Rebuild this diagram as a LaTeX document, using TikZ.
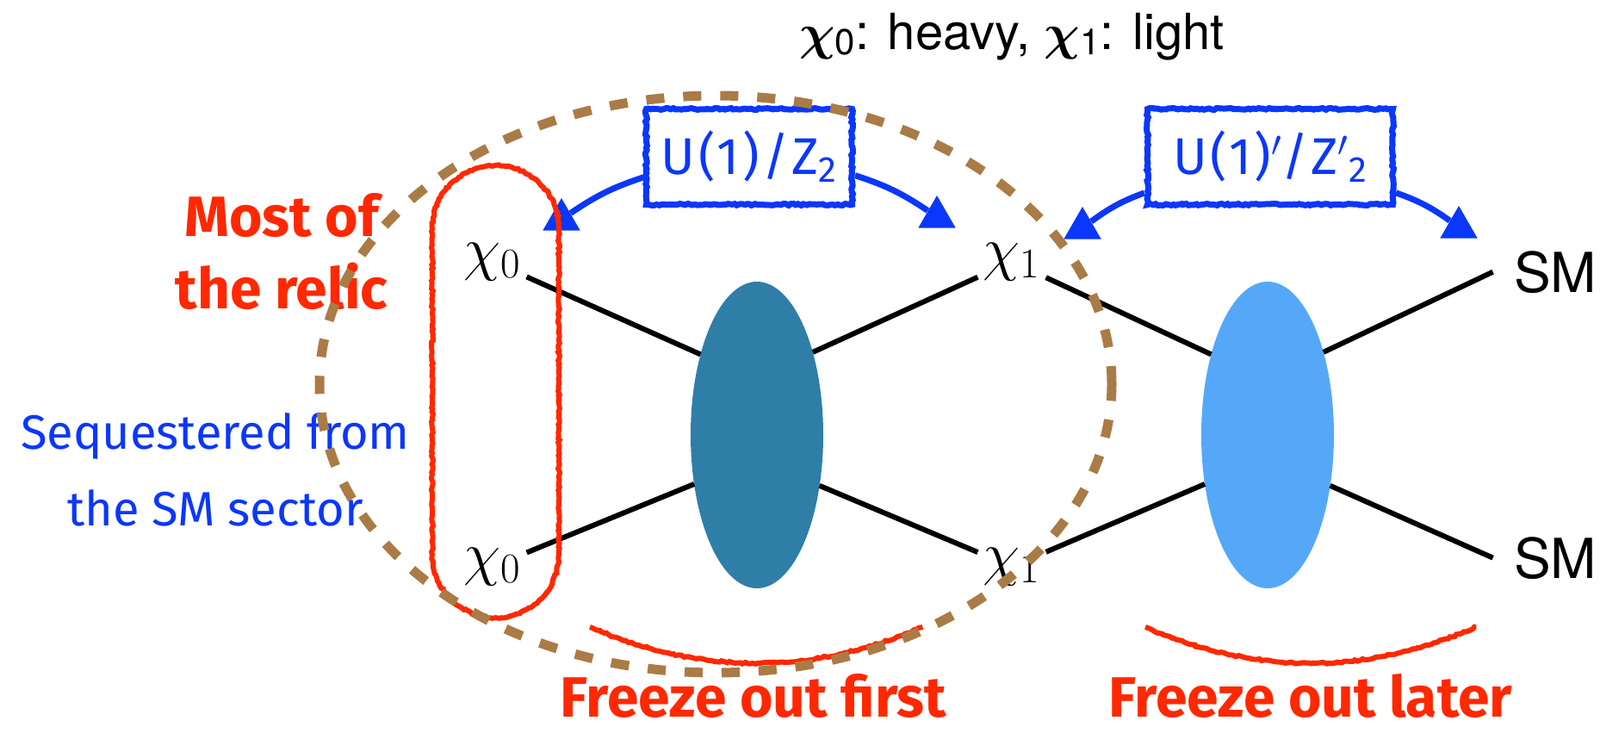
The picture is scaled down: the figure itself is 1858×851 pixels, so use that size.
\RequirePackage{fix-cm}
\documentclass[tikz,border=0pt]{standalone}
\usepackage{amsmath}
\usepackage{fontspec}
\setsansfont{TeX Gyre Heros}
\newfontfamily\handfont{Fira Sans}
\newfontfamily\boxfont{Fira Sans}[LetterSpace=6]
\usetikzlibrary{arrows.meta, positioning, calc, shapes.geometric, decorations.pathmorphing}

\definecolor{blobdark}{RGB}{46,126,168}
\definecolor{bloblight}{RGB}{85,168,248}
\definecolor{chalkred}{RGB}{255,40,0}
\definecolor{penblue}{RGB}{10,55,250}
\definecolor{dashbrown}{RGB}{170,123,70}

\newcommand{\ttlchi}[1]{$\boldsymbol{\chi}$\raisebox{-0.12em}{\fontsize{21}{21}\selectfont #1}}

\begin{document}
\begin{tikzpicture}[x=0.5pt, y=-0.5pt,
    lbl/.style={font=\fontsize{35}{35}\selectfont, inner sep=3pt, anchor=base},
    smlbl/.style={font=\sffamily\fontsize{32}{32}\selectfont, inner sep=12pt, anchor=base},
    blob/.style={ellipse, minimum width=77pt, minimum height=178pt, inner sep=0pt, outer sep=0pt},
    leg/.style={line width=3pt},
    rough/.style={decorate, decoration={random steps, segment length=1.5pt, amplitude=0.5pt}},
    chalk/.style={chalkred, line width=3pt, rough},
    symbox/.style={draw=penblue, line width=3.5pt, minimum height=55.5pt, inner sep=0pt,
        text=penblue, font=\boxfont\fontsize{30}{30}\selectfont, rough},
    penline/.style={penblue, line width=3.5pt},
    tip/.style={regular polygon, regular polygon sides=3, fill=penblue, minimum size=25pt, inner sep=0pt},
    handred/.style={text=chalkred, font=\handfont\bfseries\fontsize{33}{42}\selectfont, align=center},
    handblue/.style={text=penblue, font=\handfont\fontsize{28}{44.5}\selectfont, align=center}
]
    \useasboundingbox (0,0) rectangle (1858,851);

    % labels
    \node (title) at (1175,57) [anchor=base, font=\sffamily\fontsize{29}{29}\selectfont]
        {\ttlchi{0}: heavy, \ttlchi{1}: light};
    \node[lbl] (chiL1) at (572,312) {$\chi_0$};
    \node[lbl] (chiL2) at (572,666) {$\chi_0$};
    \node[lbl] (chiM1) at (1175,312) {$\chi_1$};
    \node[lbl] (chiM2) at (1175,666) {$\chi_1$};
    \node[smlbl] (smR1) at (1806,339) {SM};
    \node[smlbl] (smR2) at (1806,671) {SM};

    % blobs
    \node[blob, fill=blobdark] (blobA) at (879,505) {};
    \node[blob, fill=bloblight] (blobB) at (1472,505) {};

    \draw[leg] (chiL1) -- (blobA.125);
    \draw[leg] (chiL2) -- (blobA.218);
    \draw[leg] (chiM1) -- (blobA.56);
    \draw[leg] (chiM2) -- (blobA.321);
    \draw[leg] (chiM1) -- (blobB.125);
    \draw[leg] (chiM2) -- (blobB.218);
    \draw[leg] (blobB.56) -- (smR1.west);
    \draw[leg] (blobB.321) -- (smR2.west);

    % symmetries
    \node[symbox, minimum width=119.5pt] (symA) at (870,182) {U(1)/Z\textsubscript{2}};
    \node[symbox, minimum width=142.5pt] (symB) at (1475,182) {U(1)$'$/Z$'$\textsubscript{2}};
    \node[tip] (tipA1) at (652,255) {};
    \node[tip] (tipA2) at (1088,252) {};
    \node[tip] (tipB1) at (1257,265) {};
    \node[tip] (tipB2) at (1694,264) {};
    \draw[penline] (symA.191) to[bend right=8] (tipA1);
    \draw[penline] (symA.350) to[bend left=8] (tipA2);
    \draw[penline] (symB.196) to[bend right=8] (tipB1);
    \draw[penline] (symB.344) to[bend left=8] (tipB2);

    % red marks
    \draw[chalk] (502,265.5) arc[start angle=180, end angle=0, radius=36.75pt]
        -- (649,643.5) arc[start angle=0, end angle=-180, radius=36.75pt] -- cycle;
    \draw[chalk] (685,728) .. controls (814,784) and (942,784) .. (1071,728);
    \draw[chalk] (1330,728) .. controls (1458,784) and (1586,784) .. (1714,728);

    \node[handred] (relic) at (327,292) {Most of\\the relic};
    \node[handblue] (seq) at (250,545) {Sequestered from\\the SM sector};
    \node[handred, anchor=base, inner sep=0pt] (first) at (875,832) {Freeze out first};
    \node[handred, anchor=base, inner sep=0pt] (later) at (1522,832) {Freeze out later};

    % dark sector
    \draw[dashbrown, line width=5.5pt, dash pattern=on 10.5pt off 11pt]
        (831,446) ellipse [x radius=230pt, y radius=167.5pt];
\end{tikzpicture}
\end{document}
